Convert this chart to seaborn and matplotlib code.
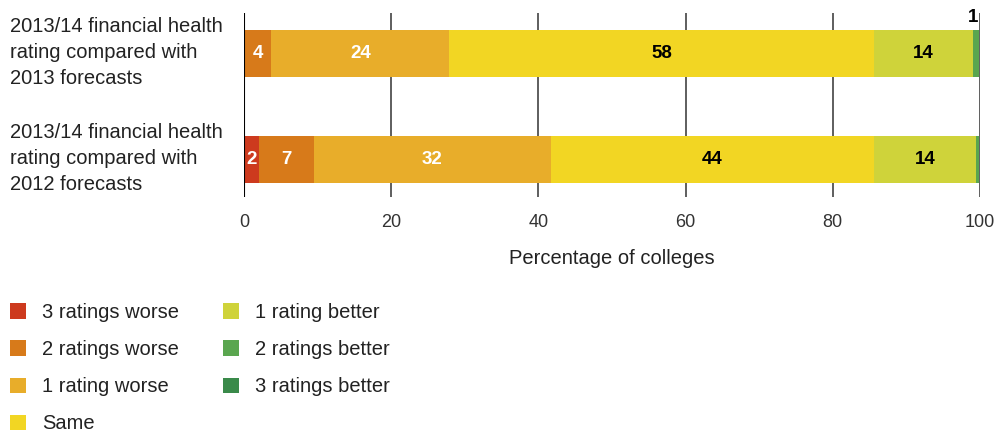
import matplotlib
matplotlib.use("Agg")
import matplotlib.pyplot as plt
import matplotlib.transforms as mtransforms
import seaborn as sns
import numpy as np
import pandas as pd
from matplotlib.patches import Patch

sns.set_theme(style="white")
plt.rcParams['font.family'] = ['Liberation Sans', 'DejaVu Sans']

categories = ["2013/14 financial health\nrating compared with\n2013 forecasts",
              "2013/14 financial health\nrating compared with\n2012 forecasts"]
series = ["3 ratings worse", "2 ratings worse", "1 rating worse", "Same",
          "1 rating better", "2 ratings better", "3 ratings better"]
row_2013 = [0.0, 3.7, 24.2, 57.7, 13.4, 0.9, 0.0]
row_2012 = [2.0, 7.5, 32.2, 43.9, 13.9, 0.3, 0.0]
labels_2013 = ["", "4", "24", "58", "14", "1", ""]
labels_2012 = ["2", "7", "32", "44", "14", "", ""]
colors = ["#cd3a1e", "#d77a1a", "#e8ad2a", "#f2d623", "#cfd33a", "#5aa64f", "#3a8a4a"]
text_colors = ["white", "white", "white", "black", "black", "black", "black"]
xticks = [0, 20, 40, 60, 80, 100]

vals = np.array([row_2013, row_2012])
cum = np.cumsum(vals, axis=1)
lefts = cum - vals

fig = plt.figure(figsize=(9.98, 4.32), dpi=100)
W, H = 998, 432
ax = fig.add_axes([244 / W, 1 - 197 / H, (980 - 244) / W, (197 - 13) / H])

# gridlines behind
for xv in xticks[1:]:
    ax.axvline(xv, color="#333333", lw=1.1, zorder=0)

# stacked bars via seaborn: draw cumulative totals from right to left
for i in range(len(series) - 1, -1, -1):
    df = pd.DataFrame({"cat": categories, "val": cum[:, i]})
    sns.barplot(data=df, x="val", y="cat", orient="h", color=colors[i],
                saturation=1, width=0.44, ax=ax, zorder=2, linewidth=0)

ax.axvline(0, color="black", lw=1.5, zorder=3)

label_rows = [labels_2013, labels_2012]
for r in range(2):
    for i in range(len(series)):
        lab = label_rows[r][i]
        if not lab:
            continue
        if vals[r, i] < 1.5 and i > 0:
            # tiny segment: label above bar, right-aligned to bar end
            ax.text(cum[r, i] - 0.2, r - 0.255, lab, ha="right", va="bottom",
                    fontsize=13.5, fontweight="bold", color="black", zorder=4)
        else:
            ax.text(lefts[r, i] + vals[r, i] / 2, r, lab, ha="center", va="center",
                    fontsize=13.5, fontweight="bold", color=text_colors[i], zorder=4)

ax.set_xlim(0, 100)
ax.set_ylim(1.352, -0.381)
ax.set_xticks(xticks)
ax.set_xticklabels([str(t) for t in xticks], fontsize=13, color="#333333")
ax.tick_params(axis="x", length=0, pad=12)
ax.set_yticks([0, 1])
ax.set_yticklabels([])
ax.tick_params(axis="y", length=0)
# category labels, left aligned at the figure's left margin
trans = mtransforms.blended_transform_factory(fig.transFigure, ax.transData)
trans = trans + mtransforms.ScaledTranslation(0, 1 / 100, fig.dpi_scale_trans)
for r, cat in enumerate(categories):
    ax.text(10 / W, r, cat, transform=trans, ha="left", va="center",
            fontsize=14.5, color="#222222", linespacing=1.45, clip_on=False)
ax.set_xlabel("Percentage of colleges", fontsize=14.5, color="#222222", labelpad=13)
ax.set_ylabel("")
for s in ax.spines.values():
    s.set_visible(False)

handles = [Patch(facecolor=c, edgecolor="none", label=s) for c, s in zip(colors, series)]
leg = fig.legend(handles=handles, loc="upper left", bbox_to_anchor=(10 / W, 1 - 303 / H),
                 ncol=2, frameon=False, fontsize=14.5, handlelength=0.8, handleheight=0.8,
                 handletextpad=0.8, columnspacing=2.15, labelspacing=0.9, borderaxespad=0,
                 borderpad=0)
for t in leg.get_texts():
    t.set_color("#222222")

fig.savefig("out.png", dpi=100)
